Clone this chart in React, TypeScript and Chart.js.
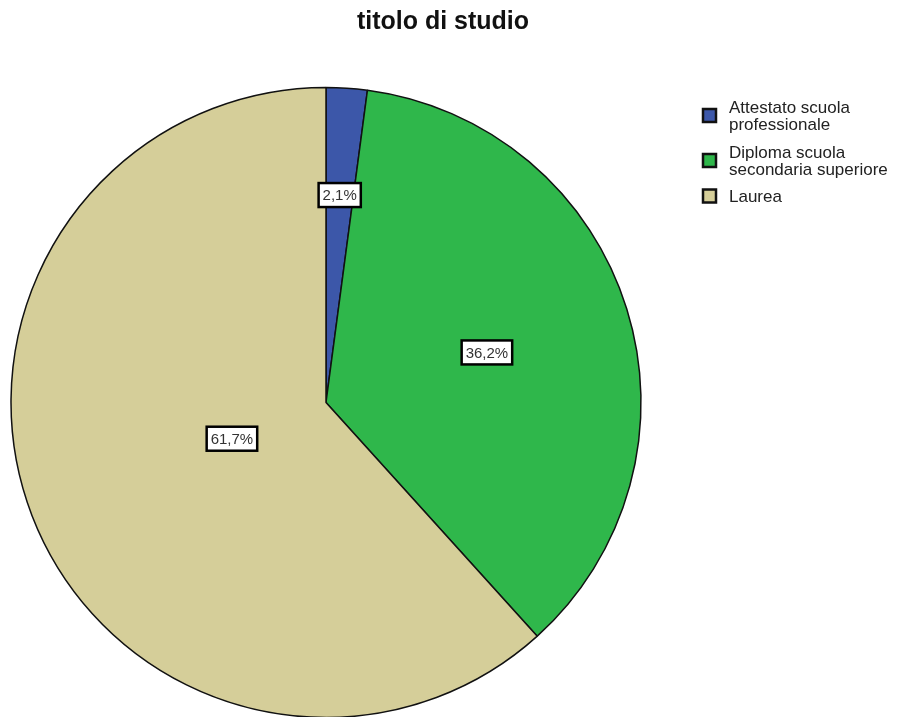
import React, { useEffect, useRef } from "react";
import { Chart, registerables } from "chart.js";

Chart.register(...registerables);

const TITLE = "titolo di studio";
const categories = ["Attestato scuola professionale", "Diploma scuola secondaria superiore", "Laurea"];
const legendLines = [["Attestato scuola", "professionale"], ["Diploma scuola", "secondaria superiore"], ["Laurea"]];
const values = [2.1, 36.2, 61.7];
const valueLabels = ["2,1%", "36,2%", "61,7%"];
const colors = ["#3C57A9", "#2FB74B", "#D5CE99"];
const labelRadialFraction = [0.66, 0.535, 0.32];

const FONT = "'Liberation Sans', Arial, sans-serif";

const overlayPlugin = {
  id: "overlay",
  afterDatasetsDraw(chart: any) {
    const ctx = chart.ctx as CanvasRenderingContext2D;
    const meta = chart.getDatasetMeta(0);
    ctx.save();
    ctx.font = `15px ${FONT}`;
    ctx.textAlign = "center";
    ctx.textBaseline = "middle";
    meta.data.forEach((arc: any, i: number) => {
      const mid = (arc.startAngle + arc.endAngle) / 2;
      const r = arc.outerRadius * labelRadialFraction[i];
      const x = arc.x + Math.cos(mid) * r;
      const y = arc.y + Math.sin(mid) * r;
      const text = valueLabels[i];
      const w = ctx.measureText(text).width + 8;
      const h = 24;
      ctx.fillStyle = "#ffffff";
      ctx.fillRect(x - w / 2, y - h / 2, w, h);
      ctx.strokeStyle = "#000000";
      ctx.lineWidth = 2.5;
      ctx.strokeRect(x - w / 2, y - h / 2, w, h);
      ctx.fillStyle = "#333333";
      ctx.fillText(text, x, y + 1);
    });
    ctx.restore();
  },
  afterDraw(chart: any) {
    const ctx = chart.ctx as CanvasRenderingContext2D;
    ctx.save();
    ctx.font = `bold 25px ${FONT}`;
    ctx.textAlign = "center";
    ctx.textBaseline = "alphabetic";
    ctx.fillStyle = "#111111";
    ctx.fillText(TITLE, 443, 29);
    const boxX = 702;
    const boxS = 15;
    const textX = 729;
    const lineH = 17;
    const firstBaselines = [113, 158, 202];
    ctx.font = `17px ${FONT}`;
    ctx.textAlign = "left";
    legendLines.forEach((lines, i) => {
      const firstBase = firstBaselines[i];
      const lastBase = firstBase + (lines.length - 1) * lineH;
      const midY = (firstBase + lastBase) / 2 - 6;
      ctx.fillStyle = colors[i];
      ctx.fillRect(boxX + 1, midY - boxS / 2 + 1, boxS - 2, boxS - 2);
      ctx.strokeStyle = "#111111";
      ctx.lineWidth = 2.5;
      ctx.strokeRect(boxX + 1, midY - boxS / 2 + 1, boxS - 2, boxS - 2);
      ctx.fillStyle = "#222222";
      lines.forEach((ln, j) => ctx.fillText(ln, textX, firstBase + j * lineH));
    });
    ctx.restore();
  },
};

export default function App() {
  const ref = useRef<HTMLCanvasElement | null>(null);
  useEffect(() => {
    document.body.style.margin = "0";
    const chart = new Chart(ref.current as HTMLCanvasElement, {
      type: "pie",
      data: {
        labels: categories,
        datasets: [
          {
            data: values,
            backgroundColor: colors,
            borderColor: "#111111",
            borderWidth: 1.5,
          },
        ],
      },
      options: {
        responsive: false,
        animation: false,
        radius: 315,
        layout: { padding: { left: 11, right: 260, top: 88, bottom: -1 } },
        plugins: {
          legend: { display: false },
          title: { display: false },
          tooltip: { enabled: false },
        },
      },
      plugins: [overlayPlugin],
    } as any);
    return () => chart.destroy();
  }, []);
  return (
    <div style={{ width: 901, height: 717, background: "#fff" }}>
      <canvas ref={ref} width={901} height={717} />
    </div>
  );
}
